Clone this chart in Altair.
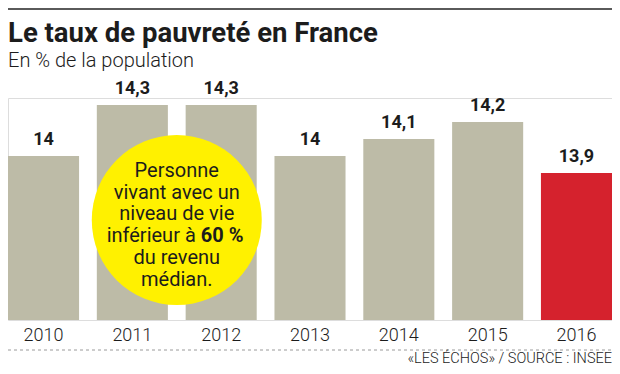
import altair as alt
import pandas as pd

# ---- data ----
years = ["2010", "2011", "2012", "2013", "2014", "2015", "2016"]
rates = [14.0, 14.3, 14.3, 14.0, 14.1, 14.2, 13.9]
labels = ["14", "14,3", "14,3", "14", "14,1", "14,2", "13,9"]
groups = ["autres", "autres", "autres", "autres", "autres", "autres", "2016"]

title_text = "Le taux de pauvreté en France"
subtitle_text = "En % de la population"
note_lines = ["Personne", "vivant avec un", "niveau de vie", "inférieur à", "60 %", "du revenu", "médian."]
source_text = "«LES ÉCHOS» / SOURCE : INSEE"

Y_MIN, Y_MAX = 13.035, 14.341
note_pos = 1.9      # in bar steps: centre of the gap between 2011 and 2012
note_value = 13.623

df = pd.DataFrame({"year": years, "rate": rates, "label": labels, "group": groups})
note_df = pd.DataFrame({"pos": [note_pos], "v": [note_value]})
one = pd.DataFrame({"a": [0]})

W, H = 604, 222
FONT = "Roboto"
INK = "#1c1c1c"

xenc = alt.X(
    "year:N", sort=years,
    scale=alt.Scale(paddingInner=0.2, paddingOuter=0),
    axis=alt.Axis(title=None, domain=False, ticks=False, labelAngle=0,
                  labelFontSize=18, labelFont=FONT, labelFontWeight=300,
                  labelColor=INK, labelPadding=6),
)
yscale = alt.Scale(domain=[Y_MIN, Y_MAX], zero=False, nice=False)
yenc = alt.Y("rate:Q", scale=yscale, axis=None)

bars = alt.Chart(df).mark_bar().encode(
    x=xenc,
    y=yenc,
    y2=alt.datum(Y_MIN),
    color=alt.Color("group:N", scale=alt.Scale(domain=["autres", "2016"],
                                                range=["#bdbba7", "#d5222d"]), legend=None),
)

values = alt.Chart(df).mark_text(baseline="bottom", dy=-7, fontSize=18, font=FONT,
                                 fontWeight="bold", color=INK).encode(
    x=alt.X("year:N", sort=years), y=alt.Y("rate:Q"), text="label:N"
)
base_layer = alt.layer(bars, values)

nx = alt.X("pos:Q", scale=alt.Scale(domain=[0, 6.8], nice=False, zero=False), axis=None)
ny = alt.Y("v:Q")
circle = alt.Chart(note_df).mark_circle(filled=True, opacity=1, color="#fff100",
                                        size=28900).encode(x=nx, y=ny)

note_layers = []
offsets = [-43, -21.3, 0.4, 22.1, 22.1, 43.8, 65.5]
for i, line in enumerate(note_lines):
    kw = dict(fontSize=20, font=FONT, color=INK, baseline="alphabetic", dy=offsets[i])
    if line == "inférieur à":
        kw.update(align="right", dx=19)
    elif line == "60 %":
        kw.update(align="left", dx=24, fontWeight="bold")
    else:
        kw.update(align="center")
    note_layers.append(
        alt.Chart(note_df).mark_text(**kw).encode(x=nx, y=ny, text=alt.value(line))
    )
note_layer = alt.layer(circle, *note_layers)

title = alt.Chart(one).mark_text(align="left", baseline="alphabetic", fontSize=27.5,
                                 font=FONT, fontWeight="bold", color=INK).encode(
    x=alt.value(0), y=alt.value(-56), text=alt.value(title_text)
)
subtitle = alt.Chart(one).mark_text(align="left", baseline="alphabetic", fontSize=20,
                                    font=FONT, fontWeight=300, color=INK).encode(
    x=alt.value(0), y=alt.value(-31), text=alt.value(subtitle_text)
)
topline = alt.Chart(one).mark_rule(color="#5a5a5a", strokeWidth=2).encode(
    x=alt.value(0), x2=alt.value(W), y=alt.value(-89)
)
dashed = alt.Chart(one).mark_rule(color="#9a9a9a", strokeWidth=1, strokeDash=[3, 3]).encode(
    x=alt.value(0), x2=alt.value(W), y=alt.value(252)
)
footer = alt.Chart(one).mark_text(align="right", baseline="alphabetic", fontSize=14.5,
                                  font=FONT, fontWeight=300, color=INK).encode(
    x=alt.value(W), y=alt.value(265), text=alt.value(source_text)
)

chart = alt.layer(
    base_layer, note_layer, title, subtitle, topline, dashed, footer
).resolve_scale(x="independent").properties(
    width=W, height=H,
    padding={"left": 0, "top": 90, "right": 0, "bottom": 46},
    autosize=alt.AutoSizeParams(type="none"),
).configure_view(stroke=None).configure(background="white")

chart.save("out.html", embed_options={"renderer": "svg", "actions": False})
